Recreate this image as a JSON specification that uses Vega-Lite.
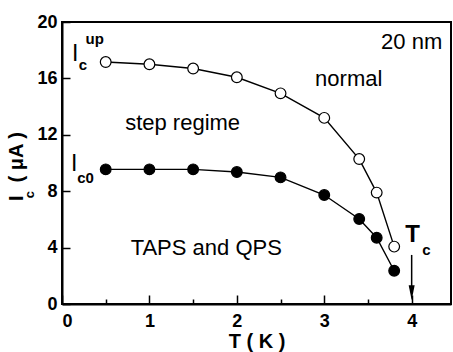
{
  "$schema": "https://vega.github.io/schema/vega-lite/v6.json",
  "width": 389,
  "height": 282,
  "autosize": {"type": "none"},
  "padding": {"left": 62, "top": 22, "right": 2, "bottom": 48},
  "background": "white",
  "config": {
    "font": "Liberation Sans",
    "view": {"stroke": "black", "strokeWidth": 2},
    "axis": {
      "domainColor": "black",
      "domainWidth": 2,
      "tickColor": "black",
      "tickWidth": 1.5,
      "labelFont": "Liberation Sans",
      "labelFontWeight": "bold",
      "labelFontSize": 18,
      "labelColor": "black",
      "grid": false,
      "titleFont": "Liberation Sans",
      "titleFontWeight": "bold",
      "titleFontSize": 20,
      "titleColor": "black"
    }
  },
  "datasets": {
    "pts": [
      {"T": 0.5, "Ic": 17.16, "series": "up"},
      {"T": 1.0, "Ic": 17.0, "series": "up"},
      {"T": 1.5, "Ic": 16.7, "series": "up"},
      {"T": 2.0, "Ic": 16.08, "series": "up"},
      {"T": 2.5, "Ic": 14.94, "series": "up"},
      {"T": 3.0, "Ic": 13.2, "series": "up"},
      {"T": 3.4, "Ic": 10.28, "series": "up"},
      {"T": 3.6, "Ic": 7.9, "series": "up"},
      {"T": 3.8, "Ic": 4.07, "series": "up"},
      {"T": 0.5, "Ic": 9.55, "series": "c0"},
      {"T": 1.0, "Ic": 9.55, "series": "c0"},
      {"T": 1.5, "Ic": 9.55, "series": "c0"},
      {"T": 2.0, "Ic": 9.36, "series": "c0"},
      {"T": 2.5, "Ic": 8.98, "series": "c0"},
      {"T": 3.0, "Ic": 7.73, "series": "c0"},
      {"T": 3.4, "Ic": 6.03, "series": "c0"},
      {"T": 3.6, "Ic": 4.7, "series": "c0"},
      {"T": 3.8, "Ic": 2.36, "series": "c0"}
    ]
  },
  "layer": [
    {
      "data": {"name": "pts"},
      "mark": {"type": "line", "color": "black", "strokeWidth": 1.4},
      "encoding": {
        "x": {
          "field": "T", "type": "quantitative",
          "scale": {"domain": [0, 4.45], "nice": false, "zero": false},
          "axis": {
            "values": [0, 0.5, 1, 1.5, 2, 2.5, 3, 3.5, 4],
            "labelExpr": "datum.value % 1 === 0 ? format(datum.value, 'd') : ''",
            "tickSize": {"condition": {"test": "datum.value % 1 === 0", "value": -9}, "value": -5},
            "labelPadding": 17,
            "title": "T ( K )",
            "titlePadding": 1
          }
        },
        "y": {
          "field": "Ic", "type": "quantitative",
          "scale": {"domain": [0, 20], "nice": false},
          "axis": {
            "values": [0, 2, 4, 6, 8, 10, 12, 14, 16, 18, 20],
            "labelExpr": "datum.value % 4 === 0 ? format(datum.value, 'd') : ''",
            "tickSize": {"condition": {"test": "datum.value % 4 === 0", "value": -8}, "value": -4},
            "labelPadding": 13,
            "title": null
          }
        },
        "detail": {"field": "series"}
      }
    },
    {
      "data": {"name": "pts"},
      "mark": {"type": "point", "shape": "circle", "filled": true, "size": 115, "stroke": "black", "strokeWidth": 1.2, "opacity": 1},
      "encoding": {
        "x": {"field": "T", "type": "quantitative"},
        "y": {"field": "Ic", "type": "quantitative"},
        "fill": {"field": "series", "type": "nominal", "scale": {"domain": ["up", "c0"], "range": ["white", "black"]}, "legend": null}
      }
    },
    {
      "data": {"values": [
        {"x": 4.0, "y": 18.58, "text": "20 nm"},
        {"x": 3.28, "y": 15.96, "text": "normal"},
        {"x": 1.38, "y": 12.84, "text": "step regime"},
        {"x": 1.65, "y": 3.97, "text": "TAPS and QPS"}
      ]},
      "mark": {"type": "text", "fontSize": 22, "font": "Liberation Sans", "color": "black", "align": "center", "baseline": "middle"},
      "encoding": {
        "x": {"field": "x", "type": "quantitative"},
        "y": {"field": "y", "type": "quantitative"},
        "text": {"field": "text"}
      }
    },
    {
      "data": {"values": [
        {"x": 0.15, "y": 17.7, "text": "I"},
        {"x": 0.14, "y": 9.9, "text": "I"}
      ]},
      "mark": {"type": "text", "fontSize": 23, "font": "Liberation Sans", "color": "black", "align": "center", "baseline": "middle"},
      "encoding": {
        "x": {"field": "x", "type": "quantitative"},
        "y": {"field": "y", "type": "quantitative"},
        "text": {"field": "text"}
      }
    },
    {
      "data": {"values": [
        {"x": 0.24, "y": 16.95, "text": "c"},
        {"x": 0.375, "y": 18.8, "text": "up"},
        {"x": 0.27, "y": 8.95, "text": "c0"}
      ]},
      "mark": {"type": "text", "fontSize": 15, "font": "Liberation Sans", "fontWeight": "bold", "color": "black", "align": "center", "baseline": "middle"},
      "encoding": {
        "x": {"field": "x", "type": "quantitative"},
        "y": {"field": "y", "type": "quantitative"},
        "text": {"field": "text"}
      }
    },
    {
      "data": {"values": [
        {"x": 4.01, "y": 4.89, "text": "T"}
      ]},
      "mark": {"type": "text", "fontSize": 24, "font": "Liberation Sans", "fontWeight": "bold", "color": "black", "align": "center", "baseline": "middle"},
      "encoding": {
        "x": {"field": "x", "type": "quantitative"},
        "y": {"field": "y", "type": "quantitative"},
        "text": {"field": "text"}
      }
    },
    {
      "data": {"values": [
        {"x": 4.17, "y": 3.83, "text": "c"}
      ]},
      "mark": {"type": "text", "fontSize": 15, "font": "Liberation Sans", "fontWeight": "bold", "color": "black", "align": "center", "baseline": "middle"},
      "encoding": {
        "x": {"field": "x", "type": "quantitative"},
        "y": {"field": "y", "type": "quantitative"},
        "text": {"field": "text"}
      }
    },
    {
      "data": {"values": [{"x": 4.0, "y": 3.48, "y2": 0.9}]},
      "mark": {"type": "rule", "color": "black", "strokeWidth": 1.5},
      "encoding": {
        "x": {"field": "x", "type": "quantitative"},
        "y": {"field": "y", "type": "quantitative"},
        "y2": {"field": "y2"}
      }
    },
    {
      "data": {"values": [{"x": 4.0, "y": 0.8}]},
      "mark": {"type": "point", "shape": "M-0.4,-1L0.4,-1L0,1Z", "filled": true, "size": 225, "color": "black", "opacity": 1},
      "encoding": {
        "x": {"field": "x", "type": "quantitative"},
        "y": {"field": "y", "type": "quantitative"}
      }
    },
    {
      "data": {"values": [
        {"x": 0, "y": 7.5, "text": "I"},
        {"x": 0, "y": 10.4, "text": "( μA )"}
      ]},
      "mark": {"type": "text", "fontSize": 20, "font": "Liberation Sans", "fontWeight": "bold", "color": "black", "align": "center", "baseline": "middle", "angle": 270, "dy": -45},
      "encoding": {
        "x": {"field": "x", "type": "quantitative"},
        "y": {"field": "y", "type": "quantitative"},
        "text": {"field": "text"}
      }
    },
    {
      "data": {"values": [
        {"x": 0, "y": 7.75, "text": "c"}
      ]},
      "mark": {"type": "text", "fontSize": 13, "font": "Liberation Sans", "fontWeight": "bold", "color": "black", "align": "center", "baseline": "middle", "angle": 270, "dy": -32},
      "encoding": {
        "x": {"field": "x", "type": "quantitative"},
        "y": {"field": "y", "type": "quantitative"},
        "text": {"field": "text"}
      }
    }
  ]
}
